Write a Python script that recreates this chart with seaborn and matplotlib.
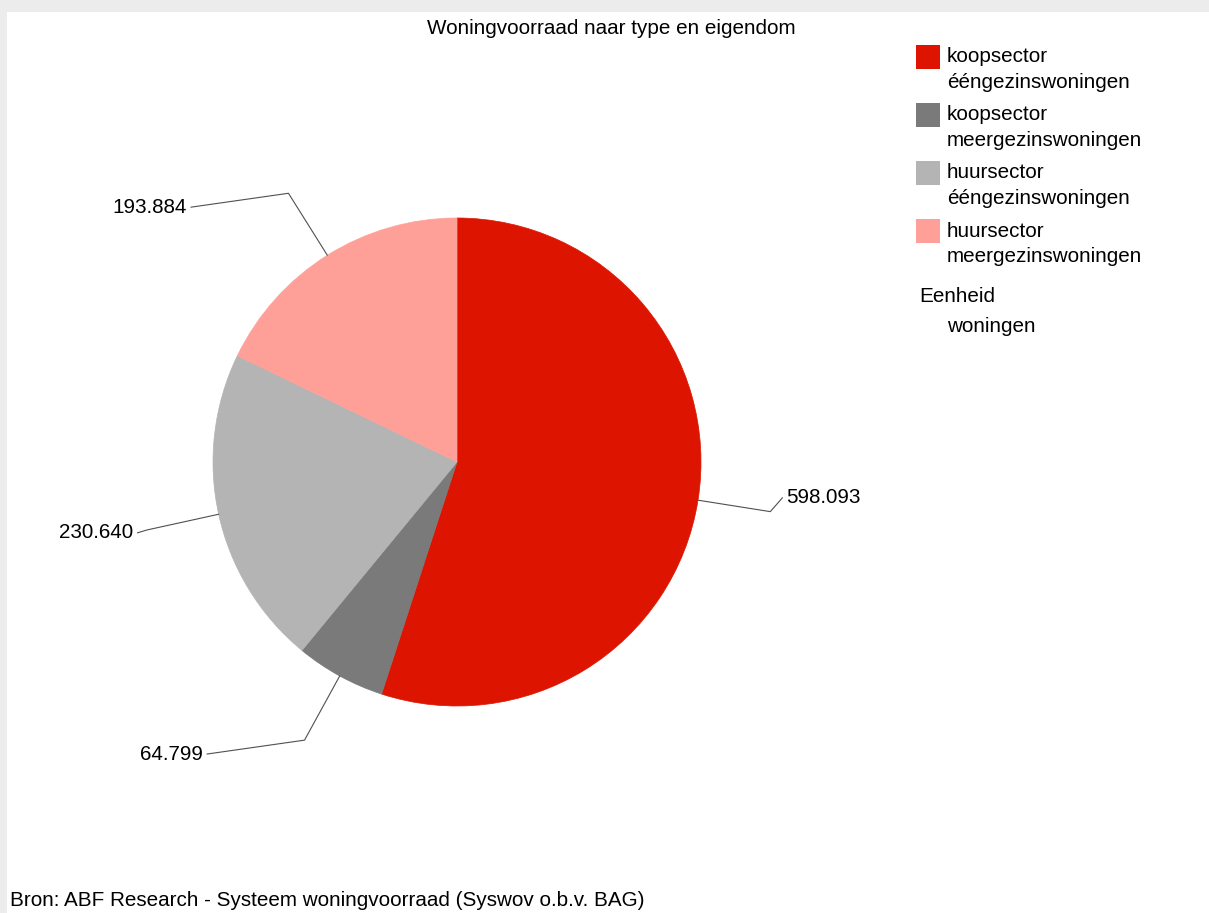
import matplotlib.pyplot as plt
import matplotlib.patches as mpatches
import numpy as np
import seaborn as sns

# data
categories = [
    "koopsector\nééngezinswoningen",
    "koopsector\nmeergezinswoningen",
    "huursector\nééngezinswoningen",
    "huursector\nmeergezinswoningen",
]
values = [598093, 64799, 230640, 193884]
value_labels = ["598.093", "64.799", "230.640", "193.884"]
unit_label = "woningen"

colors = ["#DD1500", "#7A7A7A", "#B4B4B4", "#FFA098"]

sns.set_theme(style="white")
plt.rcParams["font.family"] = ["Liberation Sans", "DejaVu Sans"]
plt.rcParams["text.color"] = "black"
FS = 14.9

W, H = 1209, 913
fig = plt.figure(figsize=(W / 100, H / 100), dpi=100, facecolor="#ECECEC")

# white panel inside the grey frame
fig.patches.append(mpatches.Rectangle((7 / W, 0), 1 - 7 / W, 901 / H, transform=fig.transFigure,
                                      facecolor="white", edgecolor="none", zorder=-5))


def fx(px):
    return px / W


def fy(py):
    return 1 - py / H


# pie centre (457, 462) px, radius 244 px
cx, cy, R = 457, 462, 244
ax = fig.add_axes([0, 0, 1, 1], zorder=1)
wedges, _ = ax.pie(values, colors=colors, startangle=90, counterclock=False, radius=1)
for w in wedges:
    # edge in the fill colour, so no seams show between slices
    w.set_edgecolor(w.get_facecolor())
    w.set_linewidth(0.5)
ax.set_xlim(-cx / R, (W - cx) / R)
ax.set_ylim(-(H - cy) / R, cy / R)
ax.set_aspect("auto")
ax.set_axis_off()

# label offsets from the elbow point (data units) and alignment
offsets = [(0.05, 0.057), (-0.40, -0.057), (-0.04, -0.012), (-0.40, -0.057)]
aligns = ["left", "right", "right", "right"]

for wedge, lab, (dx, dy), ha in zip(wedges, value_labels, offsets, aligns):
    ang = np.deg2rad((wedge.theta1 + wedge.theta2) / 2)
    p0 = np.array([np.cos(ang), np.sin(ang)])
    p1 = 1.30 * p0
    p2 = p1 + np.array([dx, dy])
    ax.plot([p0[0], p1[0], p2[0]], [p0[1], p1[1], p2[1]], color="#505050", lw=0.8,
            solid_joinstyle="miter")
    gap = 0.014 if ha == "left" else -0.016
    ax.text(p2[0] + gap, p2[1], lab, ha=ha, va="center", fontsize=FS, color="black")

fig.text(fx(611), fy(28), "Woningvoorraad naar type en eigendom", ha="center", va="center",
         fontsize=FS, color="black")

# legend
for i, (cat, col) in enumerate(zip(categories, colors)):
    top = 45 + i * 58
    fig.patches.append(mpatches.Rectangle((fx(916), fy(top + 24)), 24 / W, 24 / H,
                                          transform=fig.transFigure, facecolor=col,
                                          edgecolor="none"))
    line1, line2 = cat.split("\n")
    fig.text(fx(947), fy(top + 12), line1, ha="left", va="center", fontsize=FS)
    fig.text(fx(947), fy(top + 37), line2, ha="left", va="center", fontsize=FS)

fig.text(fx(919), fy(296), "Eenheid", ha="left", va="center", fontsize=FS)
fig.text(fx(947), fy(327), unit_label, ha="left", va="center", fontsize=FS)

fig.text(fx(10), fy(900), "Bron: ABF Research - Systeem woningvoorraad (Syswov o.b.v. BAG)",
         ha="left", va="center", fontsize=FS)

fig.savefig("out.png", dpi=100, facecolor=fig.get_facecolor())
plt.close(fig)
